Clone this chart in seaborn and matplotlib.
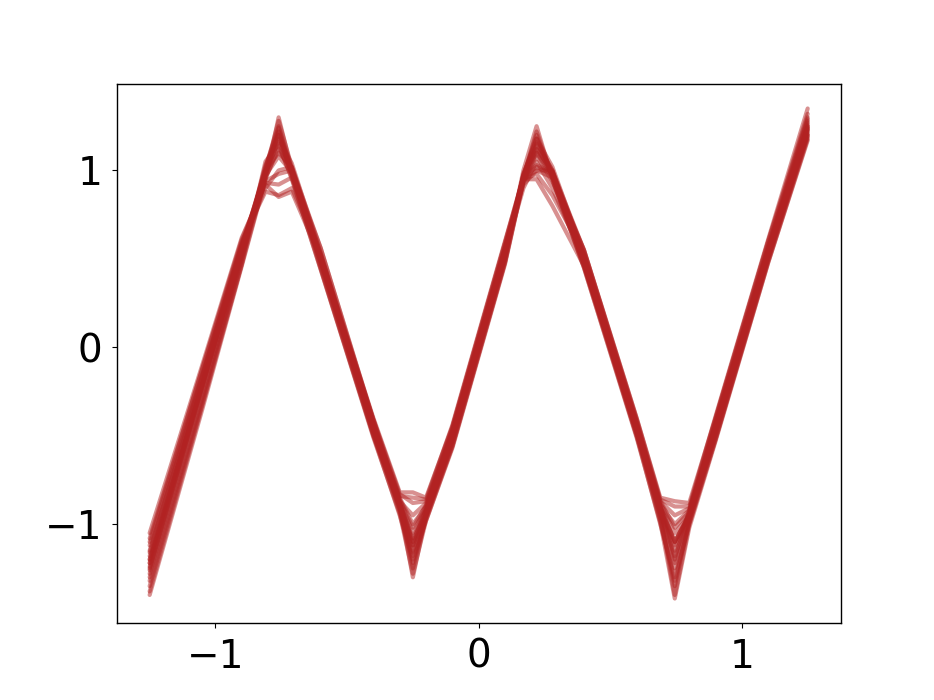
import matplotlib
matplotlib.use("Agg")
import matplotlib.pyplot as plt
import pandas as pd
import seaborn as sns

# x positions of the knots shared by every fitted curve
x_knots = [-1.25, -1.05, -0.9, -0.81, -0.76, -0.71, -0.6, -0.4, -0.3, -0.25, -0.2, -0.1,
           0.1, 0.17, 0.22, 0.28, 0.4, 0.6, 0.69, 0.745, 0.8, 0.9, 1.1, 1.25]

# y values of each curve at the knots
run_01 = [-1.20, -0.20, 0.55, 0.98, 1.22, 0.98, 0.50, -0.45, -0.88, -1.10, -0.92, -0.50,
          0.55, 0.95, 1.15, 1.00, 0.50, -0.45, -0.90, -1.10, -0.95, -0.45, 0.55, 1.25]
run_02 = [-1.30, -0.28, 0.50, 0.95, 1.30, 1.00, 0.45, -0.50, -0.90, -1.30, -0.95, -0.55,
          0.50, 1.00, 1.25, 0.95, 0.45, -0.50, -0.95, -1.40, -1.00, -0.52, 0.50, 1.20]
run_03 = [-1.10, -0.12, 0.60, 0.88, 0.86, 0.90, 0.52, -0.40, -0.82, -0.82, -0.85, -0.45,
          0.59, 0.95, 1.00, 1.00, 0.55, -0.40, -0.85, -0.87, -0.88, -0.40, 0.60, 1.30]
run_04 = [-1.25, -0.22, 0.54, 1.00, 1.10, 1.02, 0.52, -0.44, -0.85, -1.00, -0.90, -0.50,
          0.54, 0.90, 1.05, 0.90, 0.49, -0.46, -0.90, -1.20, -0.92, -0.46, 0.54, 1.22]
run_05 = [-1.35, -0.32, 0.47, 1.05, 1.15, 0.95, 0.44, -0.50, -0.95, -1.20, -0.98, -0.56,
          0.48, 0.95, 1.10, 0.98, 0.47, -0.50, -1.00, -1.30, -1.00, -0.52, 0.48, 1.18]
run_06 = [-1.15, -0.16, 0.58, 0.90, 1.00, 1.02, 0.56, -0.41, -0.88, -1.10, -0.92, -0.47,
          0.57, 0.95, 0.98, 0.86, 0.53, -0.42, -0.90, -1.10, -0.95, -0.42, 0.57, 1.28]
run_07 = [-1.22, -0.21, 0.55, 1.02, 1.25, 1.00, 0.50, -0.45, -0.90, -1.15, -0.95, -0.51,
          0.53, 0.98, 1.18, 1.02, 0.52, -0.45, -0.88, -1.05, -0.95, -0.46, 0.53, 1.24]
run_08 = [-1.05, -0.10, 0.62, 0.92, 0.85, 0.88, 0.50, -0.41, -0.84, -0.85, -0.86, -0.44,
          0.60, 0.96, 1.02, 0.98, 0.55, -0.40, -0.86, -0.90, -0.90, -0.39, 0.61, 1.35]
run_09 = [-1.28, -0.25, 0.52, 0.97, 1.18, 1.04, 0.53, -0.47, -0.92, -1.25, -0.96, -0.53,
          0.51, 0.97, 1.20, 0.96, 0.46, -0.48, -0.97, -1.35, -0.98, -0.49, 0.51, 1.21]
run_10 = [-1.18, -0.18, 0.57, 0.99, 1.20, 0.97, 0.49, -0.45, -0.86, -1.05, -0.90, -0.48,
          0.55, 0.93, 1.08, 0.94, 0.51, -0.44, -0.91, -1.15, -0.93, -0.44, 0.55, 1.26]
run_11 = [-1.38, -0.33, 0.47, 0.96, 1.12, 1.00, 0.48, -0.49, -0.93, -1.18, -0.96, -0.56,
          0.48, 0.94, 1.12, 0.99, 0.47, -0.49, -0.92, -1.22, -0.96, -0.51, 0.49, 1.19]
run_12 = [-1.12, -0.15, 0.59, 0.94, 0.98, 1.00, 0.56, -0.42, -0.87, -0.95, -0.88, -0.46,
          0.57, 0.92, 1.00, 0.96, 0.55, -0.42, -0.89, -1.00, -0.92, -0.41, 0.58, 1.29]
run_13 = [-1.24, -0.22, 0.55, 1.00, 1.28, 1.02, 0.50, -0.46, -0.89, -1.12, -0.94, -0.50,
          0.53, 0.96, 1.22, 0.97, 0.48, -0.46, -0.93, -1.25, -0.97, -0.46, 0.53, 1.23]
run_14 = [-1.20, -0.20, 0.55, 0.97, 1.08, 0.99, 0.50, -0.45, -0.88, -1.08, -0.91, -0.50,
          0.53, 0.95, 0.95, 0.80, 0.46, -0.45, -0.92, -1.10, -0.94, -0.45, 0.54, 1.25]
run_15 = [-1.32, -0.30, 0.49, 1.03, 1.20, 0.98, 0.46, -0.49, -0.91, -1.22, -0.97, -0.54,
          0.49, 0.98, 1.16, 1.00, 0.48, -0.48, -0.98, -1.32, -0.99, -0.50, 0.50, 1.20]
run_16 = [-1.16, -0.17, 0.58, 0.99, 1.16, 1.01, 0.53, -0.43, -0.86, -1.02, -0.89, -0.47,
          0.56, 0.97, 1.12, 0.99, 0.52, -0.43, -0.87, -1.02, -0.93, -0.43, 0.56, 1.27]
run_17 = [-1.26, -0.23, 0.53, 0.98, 1.22, 1.00, 0.48, -0.47, -0.90, -1.16, -0.94, -0.52,
          0.52, 0.96, 1.14, 0.97, 0.48, -0.47, -0.94, -1.18, -0.96, -0.47, 0.52, 1.23]
run_18 = [-1.08, -0.12, 0.61, 0.93, 0.92, 0.96, 0.51, -0.41, -0.83, -0.88, -0.87, -0.45,
          0.59, 0.97, 1.03, 0.99, 0.54, -0.41, -0.87, -0.95, -0.91, -0.40, 0.60, 1.32]
run_19 = [-1.22, -0.21, 0.55, 1.01, 1.24, 0.99, 0.50, -0.45, -0.89, -1.12, -0.93, -0.50,
          0.54, 0.97, 1.18, 0.98, 0.50, -0.45, -0.91, -1.12, -0.95, -0.45, 0.54, 1.24]
run_20 = [-1.40, -0.35, 0.46, 0.95, 1.14, 0.96, 0.44, -0.51, -0.94, -1.28, -0.98, -0.57,
          0.47, 0.94, 1.10, 0.95, 0.45, -0.51, -0.99, -1.42, -1.02, -0.53, 0.48, 1.17]

runs = [run_01, run_02, run_03, run_04, run_05, run_06, run_07, run_08, run_09, run_10,
        run_11, run_12, run_13, run_14, run_15, run_16, run_17, run_18, run_19, run_20]

# ---- Long table for seaborn
#
rows = []
for i, ys in enumerate(runs):
    for x, y in zip(x_knots, ys):
        rows.append({"run": i, "x": x, "y": y})
df = pd.DataFrame(rows)

sns.set_style("ticks")
plt.rcParams['font.family'] = ['DejaVu Sans']

fig, ax = plt.subplots(figsize=(9.34, 7), dpi=100)
sns.lineplot(data=df, x="x", y="y", units="run", estimator=None, sort=False,
             color="firebrick", alpha=0.5, linewidth=3, ax=ax)

ax.set_xticks([-1, 0, 1])
ax.set_yticks([-1, 0, 1])
ax.tick_params(labelsize=28, colors="black", pad=7)
ax.set_xlabel("")
ax.set_ylabel("")
for spine in ax.spines.values():
    spine.set_visible(True)
    spine.set_color("black")
    spine.set_linewidth(1.0)

fig.savefig("out.png", dpi=100)
